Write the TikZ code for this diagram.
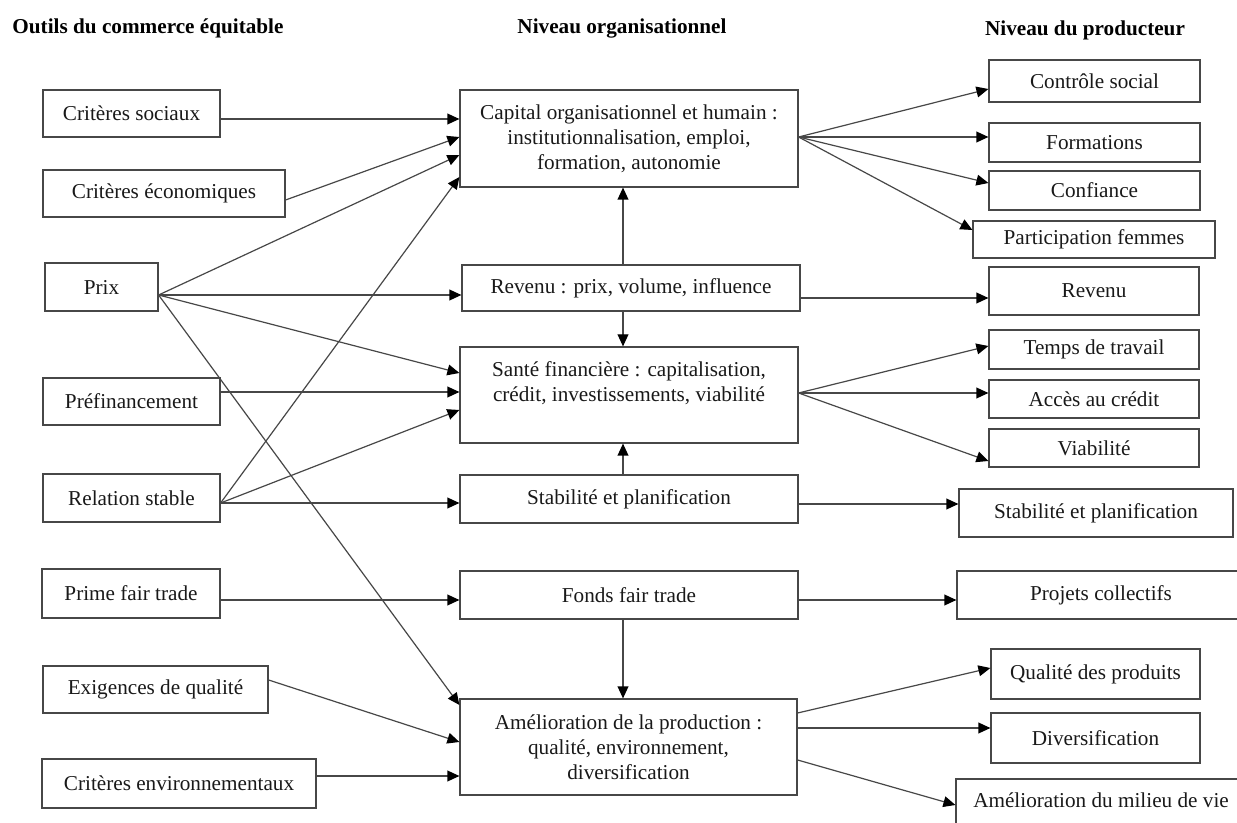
\documentclass[tikz,border=0pt]{standalone}
\usepackage{fontspec}
\setmainfont{Liberation Serif}
\usetikzlibrary{arrows.meta,fit}
\newcommand\mkbox[6]{%
  \node[box, fit={(#2,#3) (#4,#5)}] (#1) {};
  \node[txt] (#1t) at (#1.center) {#6};}
\begin{document}
\begin{tikzpicture}[x=0.5pt,y=-0.5pt,
  box/.style={draw=black!72, line width=0.6pt, inner sep=0pt},
  txt/.style={font=\fontsize{10.6}{12.5}\selectfont, align=center, inner sep=0pt, text=black!90},
  hdr/.style={font=\fontsize{10.6}{12.5}\selectfont\bfseries, inner sep=0pt},
  arr/.style={draw=black!72, line width=0.6pt, -{Triangle[length=6pt,width=5.4pt,color=black]}}]
\useasboundingbox (0,0) rectangle (1237,823);
\fill[white] (0,0) rectangle (1237,823);

% headers
\node[hdr] (h1) at (148,28) {Outils du commerce équitable};
\node[hdr] (h2) at (622,28) {Niveau organisationnel};
\node[hdr] (h3) at (1085,30) {Niveau du producteur};

% left column
\mkbox{cs}{43}{90}{220}{137}{Critères sociaux}
\mkbox{ce}{43}{170}{285}{217}{Critères économiques}
\mkbox{px}{45}{263}{158}{311}{Prix}
\mkbox{pf}{43}{378}{220}{425}{Préfinancement}
\mkbox{rs}{43}{474}{220}{522}{Relation stable}
\mkbox{pt}{42}{569}{220}{618}{Prime fair trade}
\mkbox{eq}{43}{666}{268}{713}{Exigences de qualité}
\mkbox{cenv}{42}{759}{316}{808}{Critères environnementaux}

% middle column
\mkbox{cap}{460}{90}{798}{187}{Capital organisationnel et humain :\\ institutionnalisation, emploi,\\ formation, autonomie}
\mkbox{rev}{462}{265}{800}{311}{Revenu : prix, volume, influence}
\node[box, fit={(460,347) (798,443)}] (san) {};
\node[txt] (sant) at ([yshift=6pt]san.center) {Santé financière : capitalisation,\\ crédit, investissements, viabilité};
\mkbox{stab}{460}{475}{798}{523}{Stabilité et planification}
\mkbox{fonds}{460}{571}{798}{619}{Fonds fair trade}
\mkbox{amel}{460}{699}{797}{795}{Amélioration de la production :\\ qualité, environnement,\\ diversification}

% right column
\mkbox{cso}{989}{60}{1200}{102}{Contrôle social}
\mkbox{form}{989}{123}{1200}{162}{Formations}
\mkbox{conf}{989}{171}{1200}{210}{Confiance}
\mkbox{part}{973}{221}{1215}{258}{Participation femmes}
\mkbox{revp}{989}{267}{1199}{315}{Revenu}
\mkbox{temps}{989}{330}{1199}{369}{Temps de travail}
\mkbox{acc}{989}{380}{1199}{418}{Accès au crédit}
\mkbox{via}{989}{429}{1199}{467}{Viabilité}
\mkbox{stabp}{959}{489}{1233}{537}{Stabilité et planification}
\node[box, fit={(957,571) (1248,619)}] (proj) {};
\node[txt] (projt) at (1101,595) {Projets collectifs};
\mkbox{qual}{991}{649}{1200}{699}{Qualité des produits}
\mkbox{div}{991}{713}{1200}{763}{Diversification}
\node[box, fit={(956,779) (1250,840)}] (mil) {};
\node[txt] (milt) at (1101,800) {Amélioration du milieu de vie};

% left -> middle
\draw[arr] (cs.east|-0,119) -- (cap.west|-0,119);
\draw[arr] (ce.east|-0,200) -- (cap.west|-0,137);
\draw[arr] (px.east|-0,295) -- (cap.west|-0,155);
\draw[arr] (px.east|-0,295) -- (rev.west|-0,295);
\draw[arr] (px.east|-0,295) -- (san.west|-0,373);
\draw[arr] (px.east|-0,295) -- (amel.west|-0,705);
\draw[arr] (pf.east|-0,392) -- (san.west|-0,392);
\draw[arr] (rs.east|-0,503) -- (cap.west|-0,177);
\draw[arr] (rs.east|-0,503) -- (san.west|-0,410);
\draw[arr] (rs.east|-0,503) -- (stab.west|-0,503);
\draw[arr] (pt.east|-0,600) -- (fonds.west|-0,600);
\draw[arr] (eq.east|-0,680) -- (amel.west|-0,742);
\draw[arr] (cenv.east|-0,776) -- (amel.west|-0,776);

% vertical
\draw[arr] (623,0|-rev.north) -- (623,0|-cap.south);
\draw[arr] (623,0|-rev.south) -- (623,0|-san.north);
\draw[arr] (623,0|-stab.north) -- (623,0|-san.south);
\draw[arr] (623,0|-fonds.south) -- (623,0|-amel.north);

% middle -> right
\draw[arr] (cap.east|-0,137) -- (cso.west|-0,89);
\draw[arr] (cap.east|-0,137) -- (form.west|-0,137);
\draw[arr] (cap.east|-0,137) -- (conf.west|-0,183);
\draw[arr] (cap.east|-0,137) -- (part.west|-0,230);
\draw[arr] (rev.east|-0,298) -- (revp.west|-0,298);
\draw[arr] (san.east|-0,393) -- (temps.west|-0,346);
\draw[arr] (san.east|-0,393) -- (acc.west|-0,393);
\draw[arr] (san.east|-0,393) -- (via.west|-0,461);
\draw[arr] (stab.east|-0,504) -- (stabp.west|-0,504);
\draw[arr] (fonds.east|-0,600) -- (proj.west|-0,600);
\draw[arr] (amel.east|-0,713) -- (qual.west|-0,668);
\draw[arr] (amel.east|-0,728) -- (div.west|-0,728);
\draw[arr] (amel.east|-0,760) -- (mil.west|-0,805);
\end{tikzpicture}
\end{document}
